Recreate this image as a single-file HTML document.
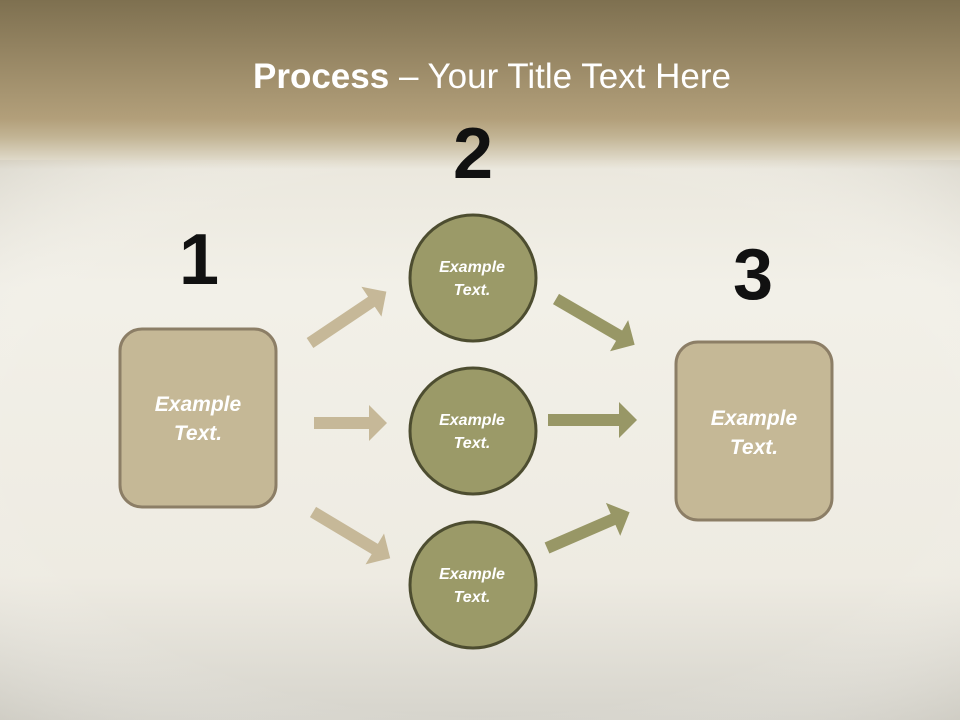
<!DOCTYPE html>
<html><head><style>
html,body{margin:0;padding:0;}
body{width:960px;height:720px;overflow:hidden;font-family:"Liberation Sans",sans-serif;}
</style></head><body>
<svg width="960" height="720" xmlns="http://www.w3.org/2000/svg">
<defs>
<linearGradient id="bg" x1="0" y1="0" x2="0" y2="1">
<stop offset="0" stop-color="#7e7050"/>
<stop offset="0.165" stop-color="#b29f7a"/>
<stop offset="0.19" stop-color="#c2b494"/>
<stop offset="0.235" stop-color="#ebe8de"/>
<stop offset="0.4" stop-color="#f2f0e8"/>
<stop offset="0.8" stop-color="#eeebe2"/>
<stop offset="1" stop-color="#d6d4cc"/>
</linearGradient>
<radialGradient id="vig" cx="0.5" cy="0.5" r="0.75">
<stop offset="0.65" stop-color="#ffffff" stop-opacity="0"/>
<stop offset="1" stop-color="#b8b4a8" stop-opacity="0.4"/>
</radialGradient>
</defs>
<rect width="960" height="720" fill="url(#bg)"/>
<rect y="160" width="960" height="560" fill="url(#vig)"/>
<text x="492" y="88" text-anchor="middle" font-family="Liberation Sans, sans-serif" font-size="35" fill="#ffffff"><tspan font-weight="bold">Process</tspan> – Your Title Text Here</text>
<g font-family="Liberation Sans, sans-serif" font-weight="bold" font-size="72" fill="#111" text-anchor="middle">
<text x="199" y="284">1</text>
<text x="473" y="178">2</text>
<text x="753" y="299">3</text>
</g>
<g fill="#c6b898">
<polygon transform="translate(310,343) rotate(-33.9)" points="0,-6 74,-6 74,-18 92,0 74,18 74,6 0,6"/>
<polygon transform="translate(314,423)" points="0,-6 55,-6 55,-18 73,0 55,18 55,6 0,6"/>
<polygon transform="translate(313,512) rotate(30.9)" points="0,-6 72,-6 72,-18 90,0 72,18 72,6 0,6"/>
</g>
<g fill="#989766">
<polygon transform="translate(556,299) rotate(30.2)" points="0,-6 73,-6 73,-18 91,0 73,18 73,6 0,6"/>
<polygon transform="translate(548,420)" points="0,-6 71,-6 71,-18 89,0 71,18 71,6 0,6"/>
<polygon transform="translate(547,548) rotate(-23.4)" points="0,-6 72,-6 72,-18 90,0 72,18 72,6 0,6"/>
</g>
<rect x="120" y="329" width="156" height="178" rx="22" fill="#c5b896" stroke="#8c7e66" stroke-width="3"/>
<rect x="676" y="342" width="156" height="178" rx="22" fill="#c5b896" stroke="#8c7e66" stroke-width="3"/>
<g fill="#9b9a68" stroke="#4d4d30" stroke-width="3">
<circle cx="473" cy="278" r="63"/>
<circle cx="473" cy="431" r="63"/>
<circle cx="473" cy="585" r="63"/>
</g>
<g font-family="Liberation Sans, sans-serif" font-weight="bold" font-style="italic" fill="#ffffff" text-anchor="middle">
<g font-size="21">
<text x="198" y="411">Example</text><text x="198" y="440">Text.</text>
<text x="754" y="425">Example</text><text x="754" y="454">Text.</text>
</g>
<g font-size="16">
<text x="472" y="272">Example</text><text x="472" y="295">Text.</text>
<text x="472" y="425">Example</text><text x="472" y="448">Text.</text>
<text x="472" y="579">Example</text><text x="472" y="602">Text.</text>
</g>
</g>
</svg>
</body></html>
